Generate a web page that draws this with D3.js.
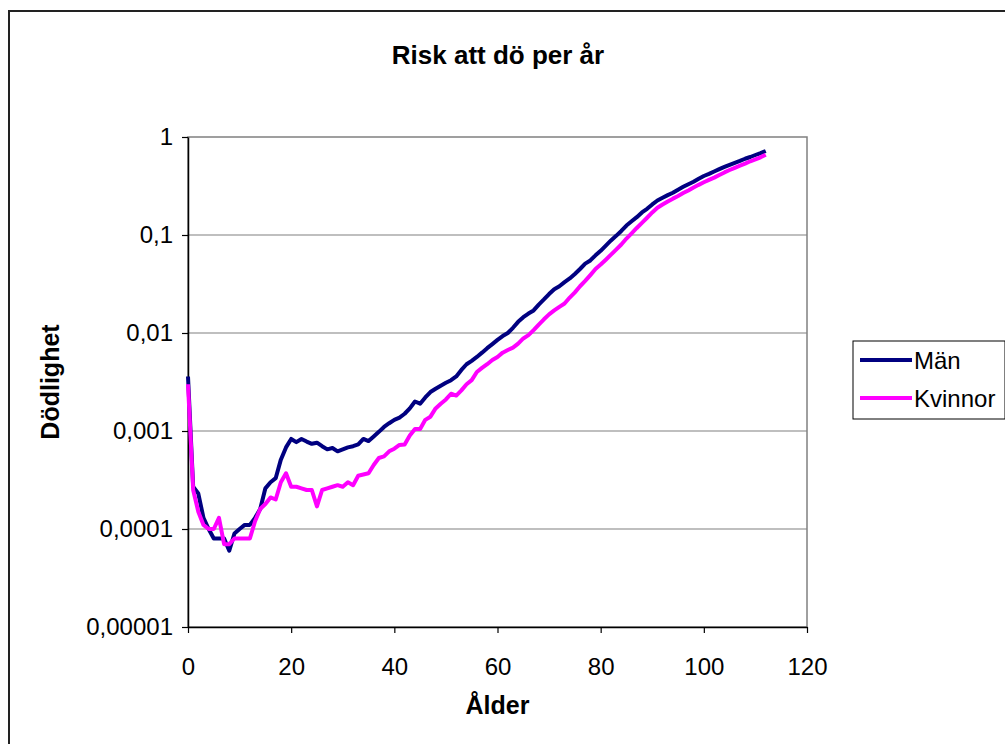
<!DOCTYPE html>
<html>
<head>
<meta charset="utf-8">
<script src="https://cdn.jsdelivr.net/npm/d3@7"></script>
<style>
  body { margin: 0; background: #fff; }
  svg { display: block; font-family: "Liberation Sans", Arial, sans-serif; }
</style>
</head>
<body>
<div id="chart"></div>
<script>
// DATA ↓
const ages = d3.range(0, 113);
const man = [
  0.0036, 0.00027, 0.00023, 0.00013, 0.0001, 0.00008, 0.00008, 0.00008, 0.00006, 0.00009,
  0.0001, 0.00011, 0.00011, 0.00013, 0.00016, 0.00026, 0.0003, 0.00033, 0.00051, 0.00068,
  0.00083, 0.00077, 0.00083, 0.00078, 0.00074, 0.00076, 0.0007, 0.00065, 0.00067, 0.00062,
  0.00065, 0.00068, 0.0007, 0.00073, 0.00083, 0.00079, 0.00088, 0.00098, 0.0011, 0.0012,
  0.0013, 0.00137, 0.0015, 0.0017, 0.002, 0.0019, 0.0022, 0.0025, 0.0027, 0.0029,
  0.0031, 0.0033, 0.0036, 0.0042, 0.0048, 0.0052, 0.0057, 0.0063, 0.007, 0.0077,
  0.0085, 0.0093, 0.01, 0.0113, 0.013, 0.0145, 0.0158, 0.017, 0.0195, 0.022,
  0.025, 0.028, 0.03, 0.033, 0.036, 0.04, 0.045, 0.051, 0.055, 0.062,
  0.069, 0.078, 0.088, 0.098, 0.11, 0.125, 0.138, 0.152, 0.17, 0.185,
  0.205, 0.225, 0.24, 0.255, 0.27, 0.29, 0.31, 0.33, 0.35, 0.375,
  0.4, 0.42, 0.445, 0.47, 0.495, 0.52, 0.545, 0.57, 0.6, 0.625,
  0.655, 0.685, 0.72
];
const kvinnor = [
  0.003, 0.00025, 0.00015, 0.00011, 0.0001, 0.0001, 0.00013, 0.00007, 0.00007, 0.00008,
  0.00008, 0.00008, 0.00008, 0.00012, 0.00016, 0.00018, 0.00021, 0.0002, 0.0003, 0.00037,
  0.00027, 0.00027, 0.00026, 0.00025, 0.00025, 0.00017, 0.00025, 0.00026, 0.00027, 0.00028,
  0.00027, 0.0003, 0.00028, 0.00035, 0.00036, 0.00037, 0.00045, 0.00053, 0.00055, 0.00062,
  0.00066, 0.00072, 0.00073, 0.0009, 0.00105, 0.00105, 0.0013, 0.0014, 0.0017, 0.0019,
  0.0021, 0.0024, 0.0023, 0.0026, 0.003, 0.0033, 0.004, 0.0044, 0.0048, 0.0053,
  0.0057, 0.0063, 0.0067, 0.0071, 0.0078, 0.0088, 0.0095, 0.0107, 0.0122, 0.0138,
  0.0155, 0.017, 0.0185, 0.02, 0.023, 0.026, 0.03, 0.034, 0.039, 0.045,
  0.05, 0.056, 0.063, 0.071, 0.08, 0.092, 0.104, 0.118, 0.133, 0.15,
  0.17, 0.19, 0.205, 0.22, 0.235, 0.25, 0.268, 0.285, 0.305, 0.325,
  0.345, 0.365, 0.385, 0.41, 0.435, 0.46, 0.485, 0.51, 0.535, 0.565,
  0.59, 0.62, 0.66
];
const seriesNames = ["Män", "Kvinnor"];
const seriesColors = ["#000080", "#FF00FF"];
const xTicks = [0, 20, 40, 60, 80, 100, 120];
const yTicks = [0.00001, 0.0001, 0.001, 0.01, 0.1, 1];
const yTickLabels = ["0,00001", "0,0001", "0,001", "0,01", "0,1", "1"];
// DATA ↑

//CONSTANTS ↓
const w = 1005, h = 744;
const pLeft = 188, pRight = 807, pTop = 137, pBottom = 627;
const fs = 24;
//CONSTANTS ↑

const svg = d3.select("#chart")
  .append("svg")
  .attr("width", w)
  .attr("height", h);

// outer chart frame (runs off the window on right/bottom)
svg.append("rect")
  .attr("x", 9).attr("y", 11)
  .attr("width", w).attr("height", h)
  .attr("fill", "#fff")
  .attr("stroke", "#222")
  .attr("stroke-width", 2);

const xScale = d3.scaleLinear().domain([0, 120]).range([pLeft, pRight]);
const yScale = d3.scaleLog().domain([0.00001, 1]).range([pBottom, pTop]);

// plot area border
svg.append("rect")
  .attr("x", pLeft).attr("y", pTop)
  .attr("width", pRight - pLeft).attr("height", pBottom - pTop)
  .attr("fill", "none")
  .attr("stroke", "#808080")
  .attr("stroke-width", 1.5);

// gridlines
svg.append("g")
  .selectAll("line")
  .data(yTicks.slice(1, -1))
  .enter()
  .append("line")
  .attr("x1", pLeft).attr("x2", pRight)
  .attr("y1", d => yScale(d)).attr("y2", d => yScale(d))
  .attr("stroke", "#808080")
  .attr("stroke-width", 1.2);

// Axis ↓
const xAxis = svg.append("g")
  .attr("transform", `translate(0, ${pBottom})`)
  .call(d3.axisBottom(xScale).tickValues(xTicks).tickSize(6).tickPadding(25).tickSizeOuter(0));
const yAxis = svg.append("g")
  .attr("transform", `translate(${pLeft}, 0)`)
  .call(d3.axisLeft(yScale).tickValues(yTicks).tickFormat((d, i) => yTickLabels[i])
    .tickSize(6).tickPadding(9).tickSizeOuter(0));
[xAxis, yAxis].forEach(a => {
  a.select(".domain").attr("stroke", "#000").attr("stroke-width", 1.5);
  a.selectAll(".tick line").attr("stroke", "#000").attr("stroke-width", 1.2);
  a.selectAll(".tick text")
    .attr("fill", "#000")
    .style("font-size", fs + "px")
    .style("font-family", "'Liberation Sans', Arial, sans-serif");
});
// Axis ↑

// lines
const line = d3.line()
  .x((d, i) => xScale(ages[i]))
  .y(d => yScale(d));
[man, kvinnor].forEach((s, i) => {
  svg.append("path")
    .datum(s)
    .attr("fill", "none")
    .attr("stroke", seriesColors[i])
    .attr("stroke-width", 4)
    .attr("stroke-linejoin", "round")
    .attr("d", line);
});

// titles
svg.append("text")
  .attr("x", 498).attr("y", 64)
  .attr("text-anchor", "middle")
  .style("font-size", "26px").style("font-weight", "bold")
  .text("Risk att dö per år");
svg.append("text")
  .attr("x", (pLeft + pRight) / 2).attr("y", 714)
  .attr("text-anchor", "middle")
  .style("font-size", "25px").style("font-weight", "bold")
  .text("Ålder");
svg.append("text")
  .attr("transform", `translate(59, ${(pTop + pBottom) / 2}) rotate(-90)`)
  .attr("text-anchor", "middle")
  .style("font-size", "25px").style("font-weight", "bold")
  .text("Dödlighet");

// legend
const legend = svg.append("g").attr("transform", "translate(853, 341)");
legend.append("rect")
  .attr("width", 152).attr("height", 78)
  .attr("fill", "#fff")
  .attr("stroke", "#000")
  .attr("stroke-width", 1);
seriesNames.forEach((n, i) => {
  const y = 19 + i * 38;
  legend.append("line")
    .attr("x1", 7).attr("x2", 59)
    .attr("y1", y).attr("y2", y)
    .attr("stroke", seriesColors[i])
    .attr("stroke-width", 4);
  legend.append("text")
    .attr("x", 61).attr("y", y + 9)
    .style("font-size", fs + "px")
    .text(n);
});
</script>
</body>
</html>
